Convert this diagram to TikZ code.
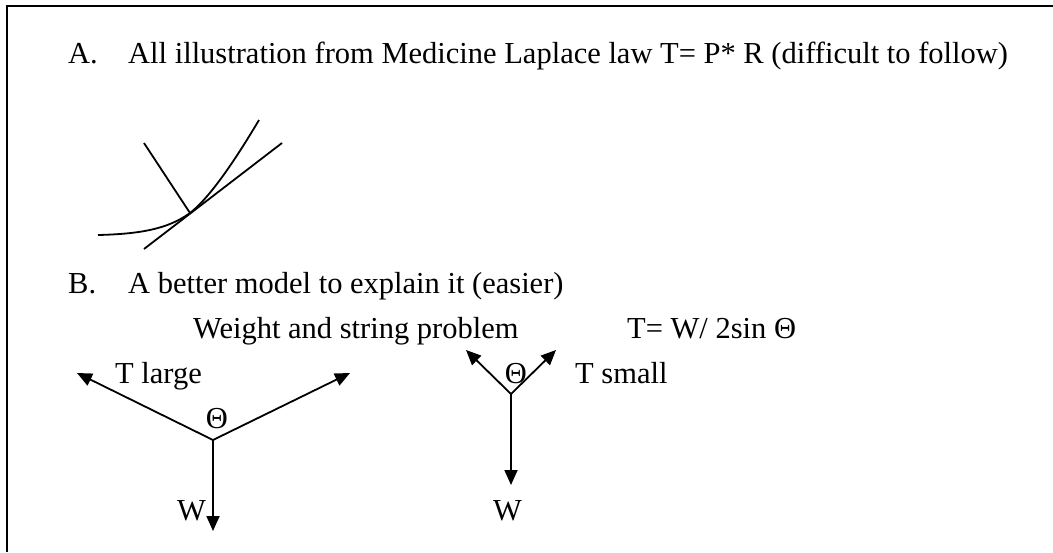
\documentclass[tikz,border=0pt]{standalone}
\usepackage{fontspec}
\setmainfont{Liberation Serif}
\usetikzlibrary{arrows.meta}
\tikzset{
  txt/.style={font=\fontsize{30.5}{36}\selectfont,inner sep=0pt,anchor=base west},
  force/.style={line width=1.8pt,-{Triangle[length=15pt,width=13pt]}},
  stroke/.style={line width=1.8pt}
}

\begin{document}
\begin{tikzpicture}[x=1pt,y=-1pt]
\useasboundingbox (0,0) rectangle (1053,552);
\draw[line width=2.3pt] (7,552) -- (7,6) -- (1053,6);
\node[txt] (pA) at (68,63) {A.};
\node[txt] (hA) at (128,63) {All illustration from Medicine Laplace law T= P* R (difficult to follow)};
\node[txt] (pB) at (68,293) {B.};
\node[txt] (hB) at (128,293) {A better model to explain it (easier)};
\node[txt] (ws) at (193,338) {Weight and string problem};
\node[txt] (fm) at (627,338) {T= W/ 2sin Θ};
% curve, tangent and radius
\coordinate (c0) at (98,235);
\coordinate (cp) at (190,213);
\coordinate (c1) at (259,120);
\coordinate (r0) at (144,143);
\coordinate (t0) at (144,249);
\coordinate (t1) at (282,143);
\draw[stroke] (c0) .. controls (140,234) and (168,229) .. (cp) .. controls (212,196) and (240,152) .. (c1);
\draw[stroke] (t0) -- (t1);
\draw[stroke] (r0) -- (cp);
% wide angle
\coordinate (jl) at (213,440);
\coordinate (al) at (77,373);
\coordinate (bl) at (350,373);
\coordinate (dl) at (213,531);
\draw[force] (jl) -- (al);
\draw[force] (jl) -- (bl);
\draw[force] (jl) -- (dl);
\node[txt] (tl) at (115,383) {T large};
\node[txt,anchor=base] (ql) at (217,428) {Θ};
\node[txt] (wl) at (177,520) {W};
% narrow angle
\coordinate (jr) at (511,394);
\coordinate (ar) at (466,350);
\coordinate (br) at (556,350);
\coordinate (dr) at (511,485);
\draw[force] (jr) -- (ar);
\draw[force] (jr) -- (br);
\draw[force] (jr) -- (dr);
\node[txt] (ts) at (575,383) {T small};
\node[txt,anchor=base] (qr) at (516,383) {Θ};
\node[txt] (wr) at (493,520) {W};
\end{tikzpicture}
\end{document}
